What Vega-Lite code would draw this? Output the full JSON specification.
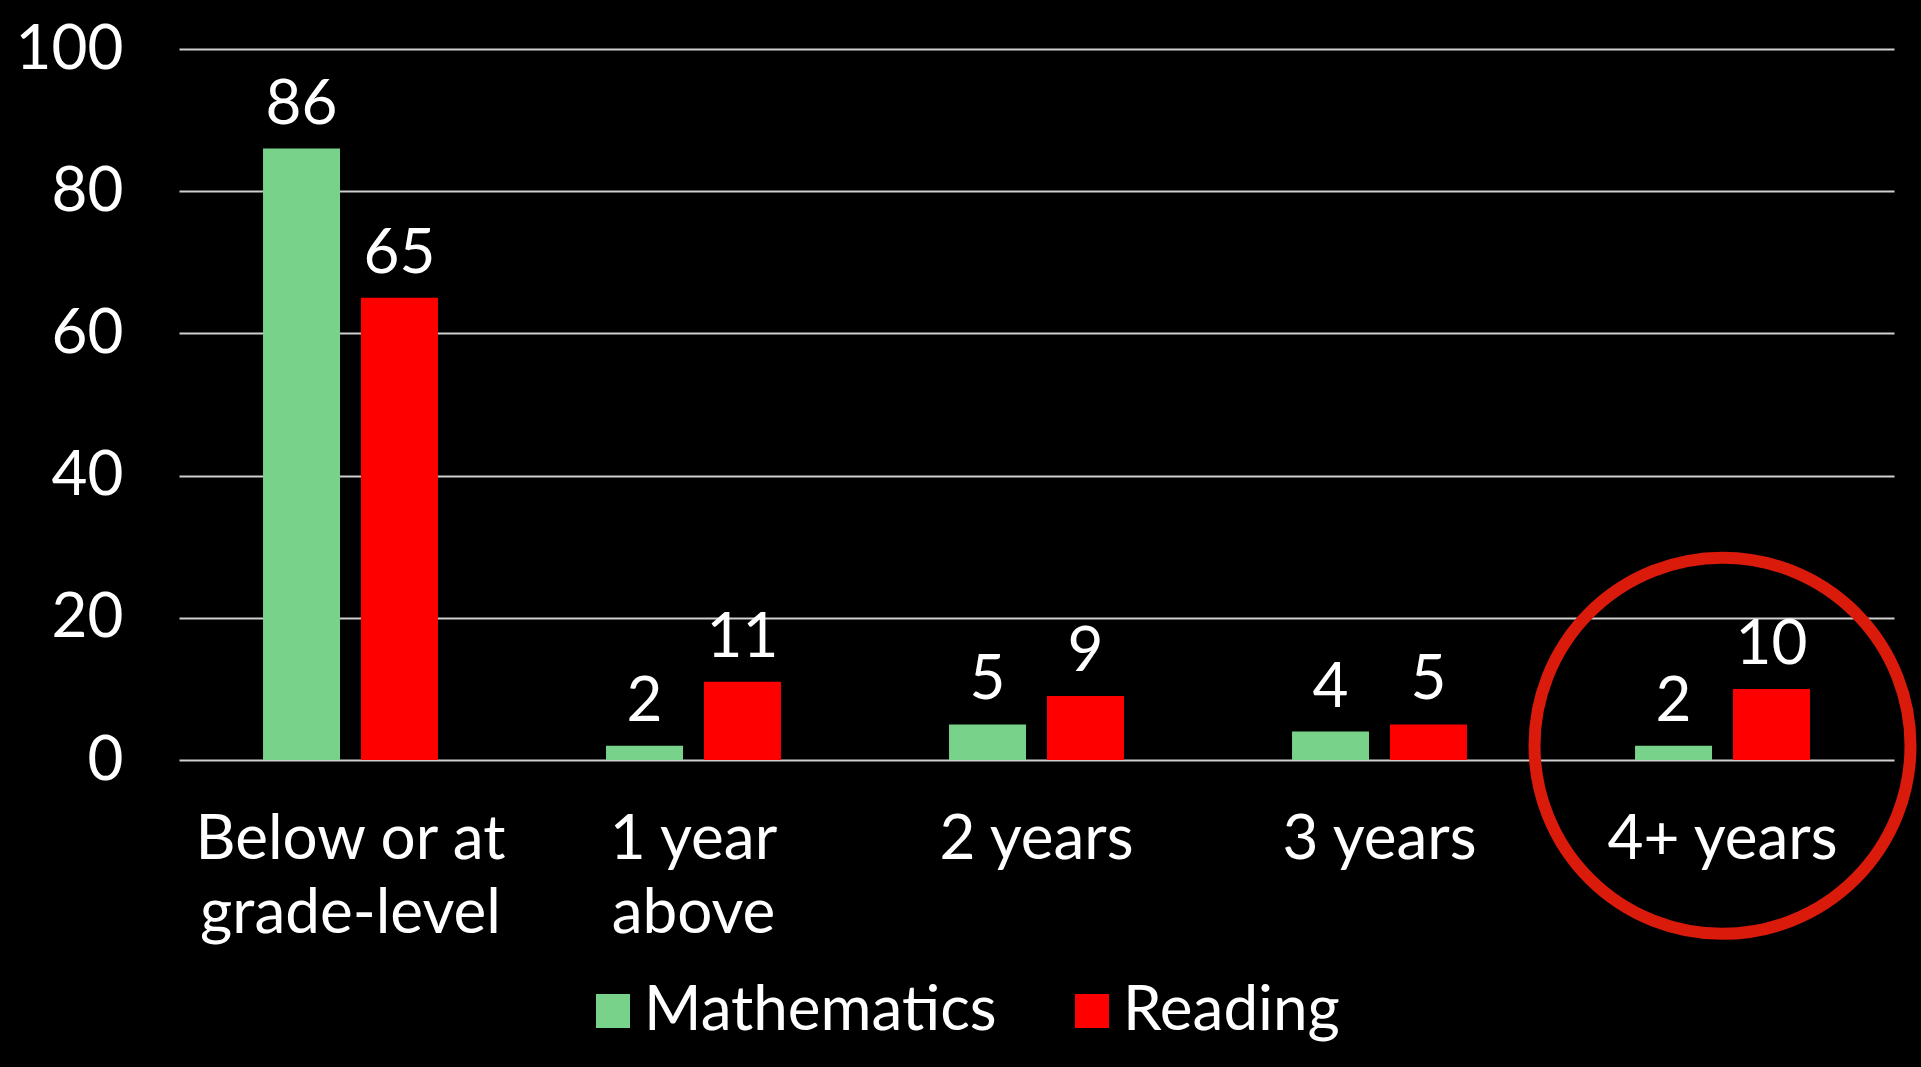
{
  "$schema": "https://vega.github.io/schema/vega-lite/v6.json",
  "autosize": {"type": "none"},
  "width": 1715,
  "height": 711,
  "padding": {"left": 179, "top": 49, "right": 27, "bottom": 307},
  "background": "#000000",
  "config": {
    "view": {"stroke": null},
    "font": "Lato",
    "axis": {"labelFont": "Lato", "labelColor": "#ffffff", "labelFontSize": 62, "domain": false, "ticks": false, "labelLimit": 0},
    "legend": {"labelFont": "Lato", "labelColor": "#ffffff", "labelFontSize": 62, "labelLimit": 0}
  },
  "data": {
    "values": [
      {"category": "Below or at grade-level", "subject": "Mathematics", "value": 86},
      {"category": "Below or at grade-level", "subject": "Reading", "value": 65},
      {"category": "1 year above", "subject": "Mathematics", "value": 2},
      {"category": "1 year above", "subject": "Reading", "value": 11},
      {"category": "2 years", "subject": "Mathematics", "value": 5},
      {"category": "2 years", "subject": "Reading", "value": 9},
      {"category": "3 years", "subject": "Mathematics", "value": 4},
      {"category": "3 years", "subject": "Reading", "value": 5},
      {"category": "4+ years", "subject": "Mathematics", "value": 2},
      {"category": "4+ years", "subject": "Reading", "value": 10}
    ]
  },
  "encoding": {
    "x": {
      "field": "category",
      "type": "nominal",
      "sort": null,
      "title": null,
      "scale": {"paddingInner": 0.49, "paddingOuter": 0.245},
      "axis": {
        "labelAngle": 0,
        "labelPadding": 49,
        "labelLineHeight": 74,
        "labelBaseline": "top",
        "grid": false,
        "labelExpr": "datum.label == 'Below or at grade-level' ? ['Below or at', 'grade-level'] : datum.label == '1 year above' ? ['1 year', 'above'] : datum.label"
      }
    }
  },
  "layer": [
    {
      "mark": {"type": "bar"},
      "encoding": {
        "xOffset": {"field": "subject", "type": "nominal", "scale": {"paddingInner": 0.214, "paddingOuter": 0}},
        "y": {
          "field": "value",
          "type": "quantitative",
          "title": null,
          "scale": {"domain": [0, 100]},
          "axis": {"values": [0, 20, 40, 60, 80, 100], "labelPadding": 56, "gridColor": "#d0d0d0", "gridWidth": 2, "grid": true}
        },
        "color": {
          "field": "subject",
          "type": "nominal",
          "title": null,
          "scale": {"domain": ["Mathematics", "Reading"], "range": ["#78d28a", "#ff0000"]},
          "legend": {
            "orient": "none",
            "direction": "horizontal",
            "legendX": 403,
            "legendY": 931,
            "padding": 0,
            "symbolType": "square",
            "symbolSize": 1156,
            "symbolStrokeWidth": 0,
            "symbolOpacity": 1,
            "labelOffset": 0,
            "columnPadding": 64
          }
        }
      }
    },
    {
      "mark": {"type": "text", "baseline": "alphabetic", "dy": -25, "fontSize": 62, "color": "#ffffff", "font": "Lato"},
      "encoding": {
        "xOffset": {"field": "subject", "type": "nominal", "scale": {"paddingInner": 0.214, "paddingOuter": 0}},
        "y": {"field": "value", "type": "quantitative"},
        "text": {"field": "value", "type": "quantitative"}
      }
    },
    {
      "transform": [{"filter": "datum.category == '4+ years' && datum.subject == 'Mathematics'"}],
      "mark": {"type": "point", "shape": "circle", "filled": false, "stroke": "#da1a0b", "strokeWidth": 12, "size": 141376, "opacity": 1},
      "encoding": {
        "y": {"field": "value", "type": "quantitative"}
      }
    }
  ]
}
